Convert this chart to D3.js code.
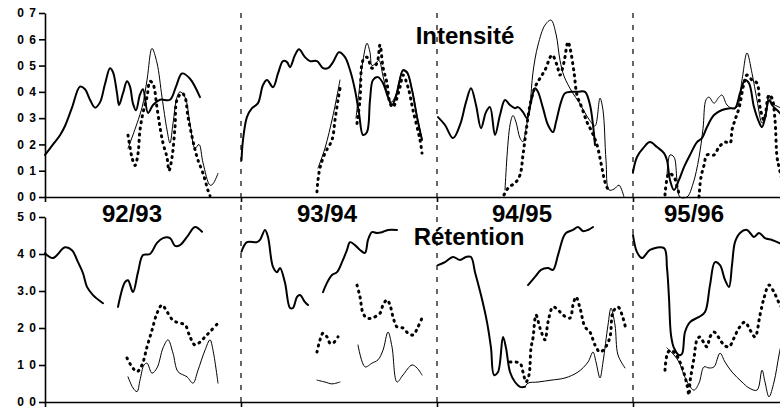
<!DOCTYPE html>
<html>
<head>
<meta charset="utf-8">
<script src="https://cdnjs.cloudflare.com/ajax/libs/d3/7.8.5/d3.min.js"></script>
<style>
body { margin: 0; background: #fff; }
svg { display: block; font-family: Arial, "Liberation Sans", sans-serif; }
</style>
</head>
<body>
<div id="viz"></div>
<script>
// seasons and axis labels
var seasons = ["92/93", "93/94", "94/95", "95/96"];
var intTicks = [0, 0.1, 0.2, 0.3, 0.4, 0.5, 0.6, 0.7];
var intTickLabels = ["0 0", "0 1", "0 2", "0 3", "0 4", "0 5", "0 6", "0 7"];
var retTicks = [0, 10, 20, 30, 40, 50];
var retTickLabels = ["0 0", "1 0", "2 0", "3.0", "4 0", "5 0"];

/* Intensité, [day in season, value] */
var int1Thick = [[0,.16],[8,.20],[15,.235],[20,.27],[27,.34],[35,.42],[40,.41],[45,.37],[50,.34],[55,.36],[60,.43],[65,.49],[68,.475],[72,.395],[74,.35],[78,.395],[82,.44],[85,.42],[88,.355],[91,.33],[95,.39],[98,.41],[103,.32],[108,.35],[115,.37],[125,.37],[131,.42],[137,.47],[145,.45],[155,.38]];
var int1Thin = [[83,.185],[97,.34],[102,.445],[107,.565],[112,.51],[117,.38],[122,.255],[125,.205],[128,.28],[132,.38],[135,.40],[140,.38],[145,.28],[150,.185],[154,.2],[158,.13],[165,.045],[168,.05],[173,.09]];
var int1Dot = [[83,.235],[85,.19],[87,.15],[90,.12],[93,.165],[95,.255],[98,.32],[102,.38],[105,.44],[108,.43],[112,.34],[115,.265],[118,.205],[122,.15],[124,.10],[127,.15],[130,.265],[132,.37],[137,.395],[140,.38],[143,.305],[147,.23],[150,.18],[153,.14],[158,.09],[163,.025],[165,.005]];

var int2Thick = [[0.5,.14],[2,.217],[6,.305],[11,.338],[17,.357],[22,.426],[26,.445],[32,.418],[37,.47],[42,.517],[46,.513],[49,.494],[54,.54],[58,.562],[64,.532],[69,.517],[76,.517],[82,.49],[87,.49],[92,.513],[98,.551],[104,.532],[109,.483],[114,.407],[118,.319],[122,.236],[126,.247],[129,.369],[132,.445],[137,.456],[142,.433],[147,.38],[151,.35],[156,.395],[162,.483],[166,.475],[171,.407],[176,.304],[181,.217]];
var int2ThinA = [[77,.11],[84,.186],[92,.31],[99,.445]];
var int2ThinB = [[115,.30],[118,.40],[122,.52],[126,.585],[129,.55],[131,.50],[135,.51],[138,.52],[142,.46],[146,.40],[150,.36],[154,.38],[158,.44],[162,.48],[166,.47],[171,.41],[176,.31],[181,.22]];
var int2DotA = [[76,.02],[77,.065],[79,.11],[84,.167],[91,.217],[94,.293],[97,.369],[99,.414]];
var int2DotB = [[116,.28],[119,.369],[122,.52],[126,.532],[131,.49],[136,.51],[139,.578],[142,.494],[146,.433],[149,.357],[152,.342],[159,.418],[162,.464],[167,.418],[172,.33],[179,.217],[181,.167]];

var int3Thick = [[1,.304],[8,.274],[16,.224],[23,.274],[29,.361],[34,.414],[39,.35],[44,.262],[49,.323],[53,.342],[58,.236],[63,.312],[68,.369],[73,.35],[78,.338],[81,.342],[86,.323],[90,.30],[94,.361],[98,.414],[101,.40],[106,.338],[111,.274],[116,.247],[119,.285],[124,.361],[128,.395],[134,.40],[141,.40],[148,.40],[153,.35],[156,.274],[158,.198]];
var int3Thin = [[68,.027],[73,.274],[76,.31],[79,.285],[83,.224],[86,.21],[89,.26],[93,.35],[96,.475],[101,.578],[108,.654],[114,.673],[119,.62],[123,.52],[127,.46],[135,.40],[142,.36],[148,.32],[153,.29],[158,.27],[163,.376],[166,.33],[169,.14],[172,.027],[177,.03],[182,.045],[187,.0]];
var int3Dot = [[67,.008],[72,.038],[78,.053],[83,.084],[86,.16],[89,.247],[93,.35],[98,.418],[103,.452],[108,.483],[115,.54],[120,.502],[123,.464],[127,.513],[131,.59],[133,.567],[137,.475],[140,.388],[145,.338],[150,.285],[155,.247],[160,.198],[165,.11],[168,.057],[172,.019]];

var int4Thick = [[0,.095],[4,.152],[11,.19],[17,.209],[24,.19],[31,.167],[34,.14],[37,.065],[41,.027],[46,.065],[51,.114],[57,.16],[64,.209],[69,.224],[74,.266],[81,.312],[89,.331],[97,.338],[102,.338],[107,.395],[112,.445],[116,.433],[121,.342],[126,.285],[129,.266],[132,.30],[136,.369],[139,.35],[146,.323],[152,.30]];
var int4Thin = [[34,.076],[37,.16],[41,.152],[44,.065],[47,.0],[54,.0],[60,.05],[66,.15],[70,.26],[73,.37],[76,.38],[81,.357],[86,.38],[89,.388],[94,.35],[99,.338],[104,.342],[109,.445],[114,.548],[119,.471],[124,.369],[129,.281],[132,.304],[136,.388],[139,.357],[146,.342],[152,.33]];
var int4DotA = [[32,.008],[36,.09],[41,.076],[44,.04],[47,.0]];
var int4DotB = [[66,.0],[68,.076],[71,.12],[74,.16],[81,.16],[86,.19],[92,.209],[97,.205],[99,.255],[102,.293],[106,.338],[111,.433],[114,.464],[119,.445],[124,.433],[127,.342],[131,.293],[136,.388],[139,.376],[142,.293],[144,.152],[146,.114],[150,.05]];

/* Rétention, [day in season, value] */
var ret1ThickA = [[0,40.2],[8,38.9],[20,41.8],[27,41],[33,37.8],[38,34.8],[42,31.1],[48,28.9],[58,26.7]];
var ret1ThickB = [[73,25.7],[80,32.4],[83,32.9],[88,29.7],[93,35.1],[98,39.7],[105,40],[112,43],[118,44.3],[125,44.3],[130,42.2],[135,42.4],[142,44.6],[150,47.3],[157,46]];
var ret1Dot = [[82,11.9],[87,9.5],[92,8.2],[97,10],[102,14.9],[107,19.4],[112,24],[117,26.2],[122,24.4],[128,22.1],[135,21.3],[140,20.9],[145,17.6],[150,15.4],[155,16.2],[160,17.6],[165,19],[173,21.3]];
var ret1Thin = [[83,6.8],[88,3.8],[92,2.8],[95,5.9],[99,10],[102,10.5],[107,7.8],[112,9.2],[118,14.6],[123,16.8],[128,13.2],[133,8.2],[142,6.8],[148,5.1],[153,8.6],[160,14],[165,16.8],[168,14],[173,5.1]];

var ret2ThickA = [[0.5,40.6],[6,43.2],[16,43.2],[19,43.8],[24,46.5],[27,44.6],[32,36.5],[36,35.1],[39,36.2],[44,32.2],[49,25.4],[52,25.4],[56,28.4],[59,28.9],[64,27],[67,26.2]];
var ret2ThickB = [[82,29.7],[86,32.2],[91,34.3],[96,35.1],[101,37.8],[106,41.1],[109,43.2],[114,42.4],[119,41.1],[124,40.3],[127,43.8],[131,45.9],[136,45.7],[141,45.9],[147,46.5],[156,46.5]];
var ret2DotA = [[76,13.5],[79,16.8],[82,18.6],[86,17.6],[89,15.9],[92,15.9],[97,17.6]];
var ret2DotB = [[116,31.6],[119,28.4],[122,24],[126,22.7],[131,22.7],[139,24],[142,26.2],[146,27.6],[149,26.2],[152,23],[156,20.3],[162,20],[167,18.6],[172,18.1],[177,20.3],[181,22.7]];
var ret2ThinA = [[76,5.9],[84,5.4],[91,4.9],[99,5.4]];
var ret2ThinB = [[117,15.4],[124,9.5],[131,10.5],[137,11.4],[142,14],[147,18.9],[151,14.9],[156,5.4],[162,7.3],[171,10],[176,9.2],[181,7.3]];

var ret3ThickA = [[1,37],[8,37.8],[16,39.2],[23,38.4],[29,39.2],[34,39.2],[38,35.1],[44,28.9],[50,21.6],[54,14.6],[57,7.3],[61,8.1],[66,17.6],[69,14.6],[73,8.1],[78,5.4],[83,4.1],[88,4.1]];
var ret3ThickB = [[91,31.6],[98,33.8],[104,35.7],[111,36.2],[116,35.7],[121,39.7],[126,44.3],[129,45.7],[136,46.5],[141,47.3],[146,46.2],[151,46.5],[156,47.3]];
var ret3Thin = [[88,4.1],[91,5.1],[101,5.4],[114,5.9],[128,6.5],[141,8.1],[151,10.8],[156,13.5],[159,10.8],[163,6.5],[166,10.8],[171,20.8],[174,25.4],[178,20.8],[181,12.7],[188,9.2]];
var ret3Dot = [[73,10.8],[78,10.8],[83,10.5],[86,8.1],[89,5.4],[92,7.3],[94,14.6],[96,17.3],[99,23.5],[103,20],[108,16.8],[111,21.6],[116,25.7],[121,24.9],[126,23.5],[133,22.7],[136,26.2],[139,28.4],[143,25.4],[148,20.3],[153,18.9],[158,15.4],[163,13.5],[168,14.6],[173,17.6],[176,24.3],[181,25.7],[186,22.7],[189,19.5]];

var ret4Thick = [[0,45.1],[4,40.5],[9,38.9],[17,41.1],[31,41.6],[34,36.2],[36,28.1],[38,18.1],[41,14.6],[46,12.7],[49,13],[52,18.9],[57,21.6],[66,23],[72,24.3],[77,31.6],[82,37.8],[87,37],[92,33],[96,31.1],[99,37],[102,43.2],[107,45.7],[114,46.5],[121,44.6],[126,45.7],[132,44.3],[139,43.8],[146,43],[152,42]];
var ret4Dot = [[32,8.6],[34,12.7],[37,14],[42,13.2],[47,10.8],[51,7.8],[54,4.6],[56,1.9],[57,5.4],[61,11.9],[64,16.8],[67,17.6],[71,15.9],[74,14.9],[77,17.6],[81,18.9],[86,17.3],[91,15.4],[96,14.9],[101,17.3],[106,20],[112,21.6],[117,19.5],[122,17.6],[127,23.5],[131,28.1],[136,31.6],[141,29.7],[146,26.8],[150,25]];
var ret4Thin = [[34,14.6],[41,12.7],[46,10.8],[51,7.3],[56,4.6],[61,3.2],[66,5.1],[71,9.5],[76,9.2],[81,9.5],[87,13.2],[92,10.8],[99,8.1],[109,5.4],[116,3.8],[124,3.2],[129,8.6],[132,5.4],[136,1.4],[141,5.4],[146,12.7],[150,18]];

var width = 780, height = 410,
    seasonWidth = 196,
    seasonLabelX = [87, 86, 85, 61]; // label offset inside each season

var svg = d3.select("#viz").append("svg")
    .attr("width", width)
    .attr("height", height);

var x = d3.scaleLinear().domain([0, 4 * seasonWidth]).range([45, 45 + 4 * seasonWidth]);
var yInt = d3.scaleLinear().domain([0, 0.7]).range([197, 13]);
var yRet = d3.scaleLinear().domain([0, 50]).range([402, 217]);

var styles = {
  thick: {w: 2, dash: null},
  thin: {w: 1, dash: null},
  dot: {w: 3, dash: "1,5.2"}
};

var series = [
  [0, "int", "thick", int1Thick], [0, "int", "thin", int1Thin], [0, "int", "dot", int1Dot],
  [1, "int", "thick", int2Thick], [1, "int", "thin", int2ThinA], [1, "int", "thin", int2ThinB], [1, "int", "dot", int2DotA], [1, "int", "dot", int2DotB],
  [2, "int", "thick", int3Thick], [2, "int", "thin", int3Thin], [2, "int", "dot", int3Dot],
  [3, "int", "thick", int4Thick], [3, "int", "thin", int4Thin], [3, "int", "dot", int4DotA], [3, "int", "dot", int4DotB],
  [0, "ret", "thick", ret1ThickA], [0, "ret", "thick", ret1ThickB], [0, "ret", "dot", ret1Dot], [0, "ret", "thin", ret1Thin],
  [1, "ret", "thick", ret2ThickA], [1, "ret", "thick", ret2ThickB], [1, "ret", "dot", ret2DotA], [1, "ret", "dot", ret2DotB], [1, "ret", "thin", ret2ThinA], [1, "ret", "thin", ret2ThinB],
  [2, "ret", "thick", ret3ThickA], [2, "ret", "thick", ret3ThickB], [2, "ret", "thin", ret3Thin], [2, "ret", "dot", ret3Dot],
  [3, "ret", "thick", ret4Thick], [3, "ret", "dot", ret4Dot], [3, "ret", "thin", ret4Thin]
];

// axes
svg.append("g")
    .attr("class", "axis")
    .attr("transform", "translate(45,0)")
    .call(d3.axisLeft(yInt).tickValues(intTicks).tickSize(6).tickSizeOuter(0)
      .tickFormat(function(d, i) { return intTickLabels[i]; }));

svg.append("g")
    .attr("class", "axis")
    .attr("transform", "translate(45,0)")
    .call(d3.axisLeft(yRet).tickValues(retTicks).tickSize(6).tickSizeOuter(0)
      .tickFormat(function(d, i) { return retTickLabels[i]; }));

[197, 402].forEach(function(yy) {
  svg.append("g")
      .attr("class", "axis")
      .attr("transform", "translate(0," + yy + ")")
      .call(d3.axisBottom(x).tickValues([0, 1, 2, 3].map(function(k) { return k * seasonWidth; }))
        .tickSize(5).tickSizeOuter(0).tickFormat(""));
});

svg.selectAll(".axis path, .axis line")
    .attr("stroke", "#000")
    .attr("stroke-width", 1.6);
svg.selectAll(".axis text")
    .attr("fill", "#000")
    .style("font-size", "12px")
    .style("font-weight", "bold")
    .style("letter-spacing", "1px")
    .attr("x", -8);

// season separators
svg.selectAll(".sep")
    .data([1, 2, 3])
    .enter().append("line")
    .attr("x1", function(k) { return x(k * seasonWidth); })
    .attr("x2", function(k) { return x(k * seasonWidth); })
    .attr("y1", 13)
    .attr("y2", 402)
    .attr("stroke", "#000")
    .attr("stroke-width", 1.2)
    .attr("stroke-dasharray", "5,7");

// curves
series.forEach(function(s) {
  var off = s[0] * seasonWidth,
      yy = s[1] == "int" ? yInt : yRet,
      st = styles[s[2]];
  var line = d3.line()
      .x(function(d) { return x(off + d[0]); })
      .y(function(d) { return yy(d[1]); })
      .curve(d3.curveCatmullRom.alpha(0.5));
  svg.append("path")
      .datum(s[3])
      .attr("d", line)
      .attr("fill", "none")
      .attr("stroke", "#000")
      .attr("stroke-width", st.w)
      .attr("stroke-linecap", "round")
      .attr("stroke-linejoin", "round")
      .attr("stroke-dasharray", st.dash);
});

// labels
svg.selectAll(".season")
    .data(seasons)
    .enter().append("text")
    .attr("x", function(d, i) { return x(i * seasonWidth + seasonLabelX[i]); })
    .attr("y", 222)
    .attr("text-anchor", "middle")
    .style("font-size", "24px")
    .style("font-weight", "bold")
    .text(function(d) { return d; });

svg.append("text")
    .attr("x", 465).attr("y", 44)
    .attr("text-anchor", "middle")
    .style("font-size", "24px")
    .style("font-weight", "bold")
    .text("Intensité");

svg.append("text")
    .attr("x", 469).attr("y", 245)
    .attr("text-anchor", "middle")
    .style("font-size", "24px")
    .style("font-weight", "bold")
    .text("Rétention");
</script>
</body>
</html>
